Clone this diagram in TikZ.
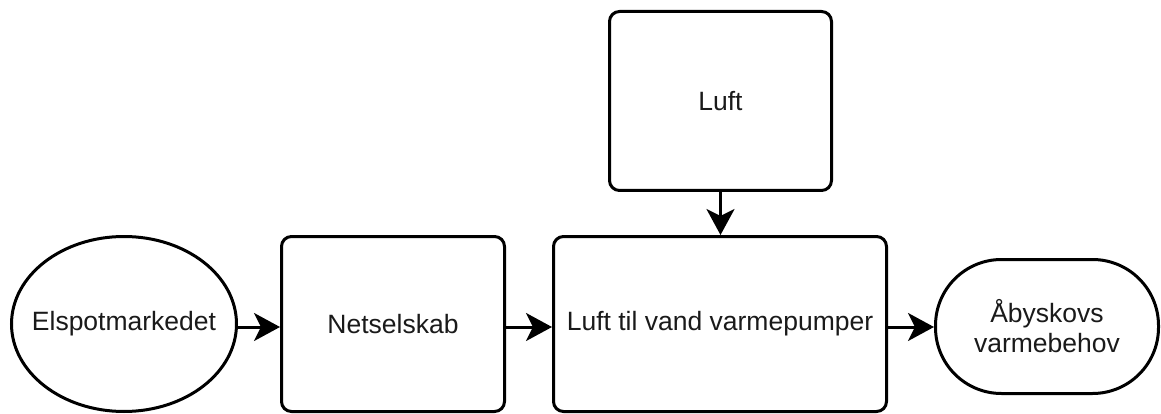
\documentclass[tikz,border=0pt]{standalone}
\usepackage{fontspec}
\setmainfont{Liberation Sans}
\usetikzlibrary{arrows.meta,shapes.geometric}
\definecolor{ink}{HTML}{1A1A1A}
\tikzset{
  txt/.style={text=ink, align=center, font=\fontsize{26.5}{30}\selectfont},
  base/.style={draw=black, line width=3pt, fill=white, inner sep=0pt, txt},
  procbox/.style={base, rectangle, rounded corners=10pt},
  startell/.style={base, ellipse},
  endcap/.style={base, rectangle, rounded corners=66pt},
  flow/.style={line width=3pt, -{Stealth[length=26pt, width=28pt, inset=7pt]}}
}
\begin{document}
\begin{tikzpicture}[x=1pt, y=-1pt]
  \useasboundingbox (0,0) rectangle (1161,414);
  % the ellipse keeps its own size; its caption sits on top as a label
  \node[startell, minimum width=225pt, minimum height=175pt,
        label={[txt]center:Elspotmarkedet}] (ell) at (124,324) {};
  \node[procbox, minimum width=223pt, minimum height=175pt] (net) at (393,324) {Netselskab};
  \node[procbox, minimum width=333pt, minimum height=175pt] (hp) at (720,324) {Luft til vand varmepumper};
  \node[procbox, minimum width=222pt, minimum height=179pt] (luft) at (720.5,101) {Luft};
  \node[endcap, minimum width=223pt, minimum height=134pt] (dem) at (1047,326.5) {Åbyskovs\\varmebehov};
  \draw[flow] (ell.east |- 0,327) -- (net.west |- 0,327);
  \draw[flow] (net.east |- 0,327) -- (hp.west |- 0,327);
  \draw[flow] (hp.east |- 0,327) -- (dem.west |- 0,327);
  \draw[flow] (luft.south) -- (hp.north -| luft.south);
\end{tikzpicture}
\end{document}
